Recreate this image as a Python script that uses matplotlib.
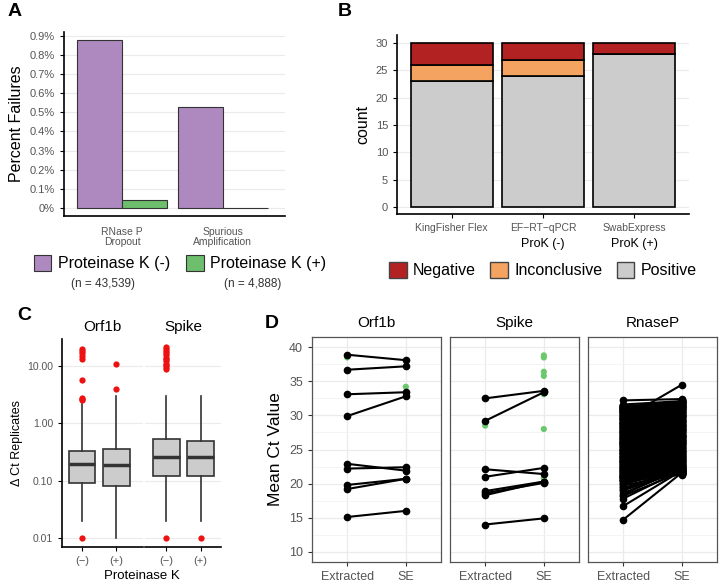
import matplotlib
matplotlib.use("Agg")
import matplotlib.pyplot as plt
from matplotlib.patches import Patch

plt.rcParams['font.family'] = ['Liberation Sans', 'DejaVu Sans']

# ---- panel A data ----
a_categories = ["RNase P\nDropout", "Spurious\nAmplification"]
a_prok_minus = [0.88, 0.53]
a_prok_plus = [0.04, 0.0]
a_ticks = [0.0, 0.1, 0.2, 0.3, 0.4, 0.5, 0.6, 0.7, 0.8, 0.9]

# ---- panel B data ----
b_methods = ["KingFisher Flex", "EF\u2212RT\u2212qPCR", "SwabExpress"]
b_positive = [23, 24, 28]
b_inconclusive = [3, 3, 0]
b_negative = [4, 3, 2]

# ---- panel C data (box stats, log scale) ----
c_genes = ["Orf1b", "Spike"]
c_groups = ["(\u2212)", "(+)"]
c_whislo = [[0.02, 0.01], [0.02, 0.02]]
c_q1 = [[0.089, 0.079], [0.12, 0.12]]
c_med = [[0.194, 0.186], [0.26, 0.26]]
c_q3 = [[0.327, 0.35], [0.53, 0.48]]
c_whishi = [[2.2, 3.0], [3.0, 3.0]]
c_fliers = [
    [[0.01, 2.5, 2.6, 2.8, 5.7, 13.3, 15.0, 16.5, 18.0, 19.8], [3.9, 10.7]],
    [[0.01, 8.7, 9.5, 10.3, 11.0, 12.0, 13.0, 14.0, 15.5, 17.0, 18.5, 20.0, 21.7], [0.01]],
]

# ---- panel D data ----
d_orf1b_ext = [38.9, 36.7, 33.1, 29.9, 22.9, 22.2, 19.8, 19.2, 15.1]
d_orf1b_se = [38.1, 37.2, 33.4, 32.8, 21.9, 22.4, 20.7, 20.7, 16.0]
d_orf1b_green_ext = [38.5]
d_orf1b_green_se = [34.2]

d_spike_ext = [32.5, 29.2, 22.1, 21.0, 18.9, 18.6, 18.3, 14.0]
d_spike_se = [33.6, 33.4, 21.4, 22.3, 20.3, 20.1, 20.3, 14.9]
d_spike_green_ext = [28.5]
d_spike_green_se = [38.8, 38.5, 36.4, 35.8, 33.1, 28.0, 20.8]

d_rnasep_ext = [32.2, 29.5, 14.7, 16.7, 17.8, 18.2, 18.6, 19.0, 19.3, 19.7, 20.1, 20.4,
                20.8, 21.2, 21.6, 22.0, 22.3, 22.7, 23.1, 23.5, 23.9, 24.2, 24.6, 25.0,
                25.4, 25.8, 26.1, 26.5, 26.9, 27.3, 27.6, 28.0, 28.4, 28.8, 29.1, 29.5,
                29.9, 30.3, 30.6, 31.0, 31.3, 31.5, 31.6, 31.2, 30.8, 30.0, 28.6, 27.1,
                25.6, 24.4, 23.0, 21.9, 20.9, 20.0, 22.5, 26.3, 29.7, 31.4, 27.9, 24.9,
                30.9, 19.5, 21.4, 28.2, 26.7, 23.7, 20.6, 22.8, 25.2, 27.5, 29.3, 30.4,
                31.1, 24.0, 26.0, 28.9, 21.1, 23.3, 25.9, 30.7,
                20.5, 21.0, 21.5, 22.0, 22.5, 23.0, 23.5, 24.0, 24.5, 25.0, 25.5, 26.0,
                26.5, 27.0, 27.5, 28.0, 28.5, 29.0, 29.5, 30.0, 30.5, 31.0, 31.5, 31.2,
                30.7, 30.2, 29.6, 29.0, 28.3, 27.7, 27.0, 26.4, 25.8, 25.1, 24.5, 23.8,
                23.2, 22.6, 21.8, 21.2, 20.7, 31.4, 31.0, 30.6, 29.8, 28.7, 27.4, 26.2,
                24.8, 23.4, 22.1, 20.9, 19.9, 19.1, 18.4,
                20.4, 20.6, 20.8, 21.0, 21.1, 21.3, 21.5, 21.7, 21.9, 22.1, 22.3, 22.5,
                22.7, 22.9, 23.1, 23.3, 23.5, 23.7, 23.9, 24.1, 24.3, 24.5, 24.7, 24.9,
                25.1, 25.3, 25.5, 25.7, 25.9, 26.1, 26.3, 26.5, 26.7, 26.9, 27.1, 27.3,
                27.5, 27.7, 27.9, 28.1, 28.3, 28.5, 28.7, 28.9, 29.1, 29.3, 29.5, 29.7,
                29.9, 30.1, 30.3, 30.5, 30.7, 30.9, 31.1, 31.3]
d_rnasep_se = [32.4, 34.5, 21.6, 21.9, 22.0, 21.7, 22.1, 21.9, 22.3, 21.5, 23.0, 21.3,
               24.5, 31.8, 22.6, 27.0, 30.5, 23.8, 29.0, 25.2, 31.2, 22.8, 28.1, 26.3,
               32.0, 24.0, 29.8, 21.8, 27.6, 25.8, 31.5, 23.4, 30.1, 26.8, 28.6, 22.2,
               31.0, 24.8, 29.3, 27.9, 31.9, 26.0, 32.1, 23.2, 21.9, 25.5, 32.2, 22.4,
               30.8, 27.3, 32.0, 28.4, 26.6, 30.2, 21.4, 24.3, 27.2, 30.6, 32.3, 23.6,
               22.7, 25.9, 29.5, 21.6, 31.3, 26.1, 28.9, 31.6, 22.9, 24.7, 21.5, 30.9,
               25.0, 29.9, 22.5, 27.7, 31.4, 28.0, 23.9, 26.4,
               31.7, 30.4, 29.1, 27.8, 26.5, 25.2, 23.9, 22.6, 21.4, 32.1, 30.9, 29.6,
               28.3, 27.0, 25.7, 24.4, 23.1, 21.8, 31.9, 30.0, 28.8, 27.5, 26.2, 21.7,
               22.3, 23.5, 24.9, 26.8, 28.0, 29.2, 30.5, 31.6, 32.0, 21.5, 22.8, 24.1,
               25.4, 26.9, 28.5, 29.9, 31.2, 22.0, 23.3, 24.6, 25.9, 27.2, 28.6, 30.1,
               31.4, 32.2, 31.8, 31.1, 22.1, 21.9, 22.4,
               21.4, 21.6, 21.8, 22.0, 22.1, 22.3, 22.5, 22.7, 22.9, 23.1, 23.3, 23.5,
               23.6, 23.8, 24.0, 24.2, 24.4, 24.6, 24.8, 25.0, 25.2, 25.4, 25.6, 25.8,
               26.0, 26.2, 26.4, 26.6, 26.8, 27.0, 27.2, 27.4, 27.6, 27.8, 28.0, 28.2,
               28.4, 28.6, 28.8, 29.0, 29.2, 29.3, 29.5, 29.7, 29.9, 30.1, 30.3, 30.5,
               30.7, 30.9, 31.1, 31.2, 31.4, 31.6, 31.8, 32.0]

d_xlabels = ["Extracted", "SE"]

GREY_TXT = "#555555"
GRID = "#EBEBEB"

fig = plt.figure(figsize=(7.2, 5.82), dpi=100)


def px(left, top, right, bottom):
    W, H = 720.0, 582.0
    return [left / W, 1 - bottom / H, (right - left) / W, (bottom - top) / H]


# ================= Panel A =================
axA = fig.add_axes(px(64, 32, 285, 216))
xA = [1, 2]
w = 0.45
axA.bar([x - w / 2 for x in xA], a_prok_minus, width=w, color="#AD89C0",
        edgecolor="#333333", linewidth=0.8, label="Proteinase K (-)", zorder=3)
axA.bar([x + w / 2 for x in xA], a_prok_plus, width=w, color="#6DBE6D",
        edgecolor="#333333", linewidth=0.8, label="Proteinase K (+)", zorder=3)
axA.set_xlim(0.42, 2.62)
axA.set_ylim(-0.042, 0.92)
axA.set_yticks(a_ticks)
axA.set_yticklabels(["0%"] + ["%.1f%%" % t for t in a_ticks[1:]])
axA.set_xticks(xA)
axA.set_xticklabels(a_categories, color=GREY_TXT, fontsize=7.5, linespacing=1.0)
axA.tick_params(axis="x", length=0, pad=8)
axA.tick_params(axis="y", labelsize=8, labelcolor=GREY_TXT, length=3, width=0.8)
for t in a_ticks:
    axA.axhline(t, color=GRID, lw=0.8, zorder=0)
for s in ["top", "right"]:
    axA.spines[s].set_visible(False)
for s in ["left", "bottom"]:
    axA.spines[s].set_linewidth(1.2)
axA.set_ylabel("Percent Failures", fontsize=11.5, labelpad=4)
axA.legend(loc="upper center", bbox_to_anchor=(0.525, -0.135), ncol=2, frameon=False,
           fontsize=11.5, handlelength=1.1, handleheight=1.1, columnspacing=1.0,
           handletextpad=0.4)
fig.text(103 / 720, 1 - 284 / 582, "(n = 43,539)", fontsize=8.5, color="#333333",
         ha="center", va="center")
fig.text(253 / 720, 1 - 284 / 582, "(n = 4,888)", fontsize=8.5, color="#333333",
         ha="center", va="center")
fig.text(8 / 720, 1 - 12 / 582, "A", fontsize=14, fontweight="bold", va="center")

# ================= Panel B =================
axB = fig.add_axes(px(397, 35, 689, 214))
xB = [1, 2, 3]
bottoms_inc = b_positive
bottoms_neg = [p + i for p, i in zip(b_positive, b_inconclusive)]
axB.bar(xB, b_positive, width=0.9, color="#CCCCCC", edgecolor="black", lw=1.2,
        label="Positive", zorder=3)
axB.bar(xB, b_inconclusive, bottom=bottoms_inc, width=0.9, color="#F4A460",
        edgecolor="black", lw=1.2, label="Inconclusive", zorder=3)
axB.bar(xB, b_negative, bottom=bottoms_neg, width=0.9, color="#B22222",
        edgecolor="black", lw=1.2, label="Negative", zorder=3)
axB.set_xlim(0.4, 3.6)
axB.set_ylim(-1.3, 31.5)
axB.set_yticks([0, 5, 10, 15, 20, 25, 30])
for t in [0, 5, 10, 15, 20, 25, 30]:
    axB.axhline(t, color=GRID, lw=0.8, zorder=0)
axB.set_xticks(xB)
axB.set_xticklabels(b_methods, color=GREY_TXT, fontsize=7.5)
axB.tick_params(axis="both", length=3, width=0.8)
axB.tick_params(axis="y", labelsize=8, labelcolor=GREY_TXT)
for s in ["top", "right"]:
    axB.spines[s].set_visible(False)
for s in ["left", "bottom"]:
    axB.spines[s].set_linewidth(1.2)
axB.set_ylabel("count", fontsize=11.5, labelpad=4)
axB.text(2, -0.165, "ProK (-)", transform=axB.get_xaxis_transform(), ha="center",
         va="center", fontsize=9)
axB.text(3, -0.165, "ProK (+)", transform=axB.get_xaxis_transform(), ha="center",
         va="center", fontsize=9)
hB = [Patch(facecolor="#B22222", edgecolor="#444444", label="Negative"),
      Patch(facecolor="#F4A460", edgecolor="#444444", label="Inconclusive"),
      Patch(facecolor="#CCCCCC", edgecolor="#444444", label="Positive")]
axB.legend(handles=hB, loc="upper center", bbox_to_anchor=(0.5, -0.19), ncol=3,
           frameon=False, fontsize=11.5, handlelength=1.1, handleheight=1.1,
           columnspacing=0.9, handletextpad=0.4)
fig.text(338 / 720, 1 - 12 / 582, "B", fontsize=14, fontweight="bold", va="center")

# ================= Panel C =================
c_boxes = [(62, 143, 0.417, 2.78), (145, 221, 0.38, 2.59)]
for g, (l, r, xl, xr) in enumerate(c_boxes):
    ax = fig.add_axes(px(l, 339, r, 547))
    stats = []
    for k in range(2):
        stats.append(dict(med=c_med[g][k], q1=c_q1[g][k], q3=c_q3[g][k],
                          whislo=c_whislo[g][k], whishi=c_whishi[g][k],
                          fliers=c_fliers[g][k]))
    ax.bxp(stats, positions=[1, 2], widths=0.78, patch_artist=True, showcaps=False,
           boxprops=dict(facecolor="#CCCCCC", edgecolor="#333333", lw=1.2),
           whiskerprops=dict(color="#333333", lw=1.2),
           medianprops=dict(color="#333333", lw=2.5),
           flierprops=dict(marker="o", markerfacecolor="#EE1111", markeredgecolor="none",
                           markersize=4.5), zorder=3)
    ax.set_yscale("log")
    ax.set_ylim(10 ** -2.16, 10 ** 1.47)
    ax.set_xlim(xl, xr)
    for t in [0.01, 0.1, 1, 10]:
        ax.axhline(t, color=GRID, lw=0.8, zorder=0)
    ax.set_xticks([1, 2])
    ax.set_xticklabels(c_groups, color=GREY_TXT, fontsize=8)
    ax.tick_params(axis="x", length=3, width=0.8)
    ax.minorticks_off()
    ax.set_title(c_genes[g], fontsize=11, pad=6)
    for s in ["top", "right"]:
        ax.spines[s].set_visible(False)
    ax.spines["bottom"].set_linewidth(1.2)
    if g == 0:
        ax.set_yticks([0.01, 0.1, 1, 10])
        ax.set_yticklabels(["0.01", "0.10", "1.00", "10.00"])
        ax.tick_params(axis="y", labelsize=7.5, labelcolor=GREY_TXT, length=3, width=0.8)
        ax.spines["left"].set_linewidth(1.2)
        ax.set_ylabel("\u0394 Ct Replicates", fontsize=9, labelpad=3)
    else:
        ax.spines["left"].set_visible(False)
        ax.set_yticks([])
fig.text(142 / 720, 1 - 576 / 582, "Proteinase K", fontsize=9.5, ha="center", va="center")
fig.text(17 / 720, 1 - 316 / 582, "C", fontsize=14, fontweight="bold", va="center")

# ================= Panel D =================
d_panels = [("Orf1b", d_orf1b_ext, d_orf1b_se, d_orf1b_green_ext, d_orf1b_green_se),
            ("Spike", d_spike_ext, d_spike_se, d_spike_green_ext, d_spike_green_se),
            ("RnaseP", d_rnasep_ext, d_rnasep_se, [], [])]
d_lefts = [312, 450, 588]
for i, (name, ext, se, gext, gse) in enumerate(d_panels):
    l = d_lefts[i]
    ax = fig.add_axes(px(l, 337, l + 129, 562))
    ax.scatter([1] * len(gext), gext, s=20, color="#6CC86C", edgecolors="none", zorder=2)
    ax.scatter([2] * len(gse), gse, s=20, color="#6CC86C", edgecolors="none", zorder=2)
    for e, s_ in zip(ext, se):
        ax.plot([1, 2], [e, s_], color="black", lw=1.5, marker="o", markersize=4.5,
                zorder=3)
    ax.set_xlim(0.4, 2.6)
    ax.set_ylim(8.5, 41.5)
    ax.set_yticks([10, 15, 20, 25, 30, 35, 40])
    ax.set_yticks([12.5, 17.5, 22.5, 27.5, 32.5, 37.5], minor=True)
    ax.grid(which="major", color=GRID, lw=0.9, zorder=0)
    ax.grid(which="minor", axis="y", color="#F2F2F2", lw=0.6, zorder=0)
    ax.set_axisbelow(True)
    ax.set_xticks([1, 2])
    ax.set_xticklabels(d_xlabels, color=GREY_TXT, fontsize=9)
    ax.tick_params(axis="both", length=3, width=0.8, color="#333333")
    ax.tick_params(which="minor", length=0)
    for s in ax.spines.values():
        s.set_color("#555555")
        s.set_linewidth(0.9)
    ax.set_title(name, fontsize=11, pad=7)
    if i == 0:
        ax.tick_params(axis="y", labelsize=9, labelcolor=GREY_TXT)
        ax.set_ylabel("Mean Ct Value", fontsize=12.5, labelpad=4)
    else:
        ax.tick_params(axis="y", left=False, labelleft=False)
fig.text(265 / 720, 1 - 323 / 582, "D", fontsize=14, fontweight="bold", va="center")

fig.savefig("out.png", dpi=100)
